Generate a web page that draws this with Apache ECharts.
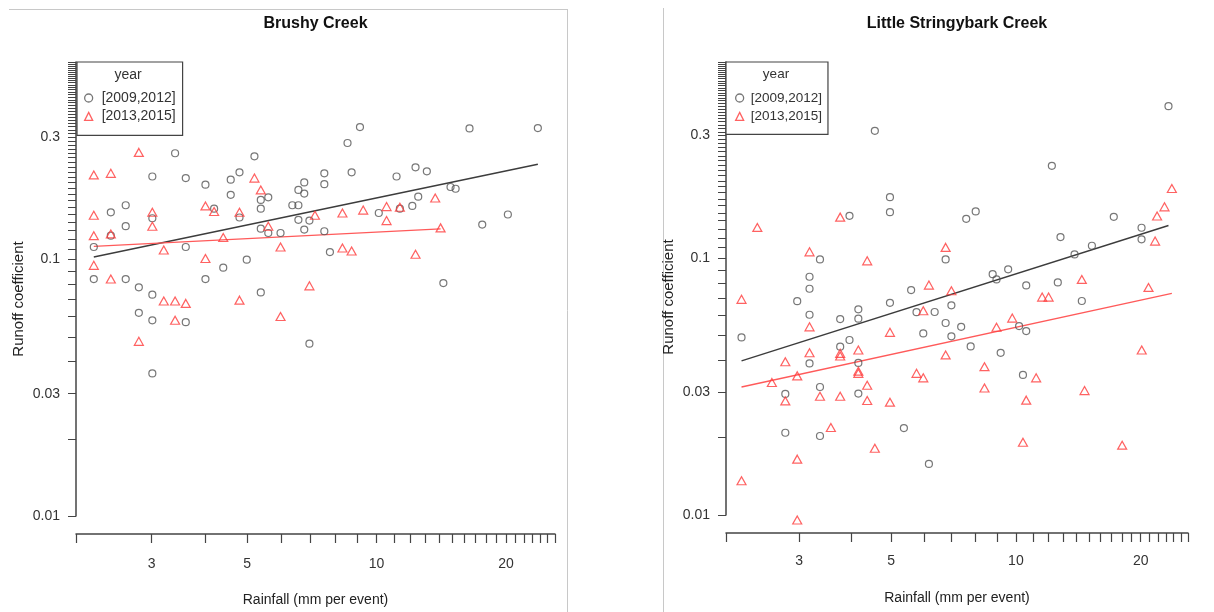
<!DOCTYPE html>
<html><head><meta charset="utf-8">
<script src="https://cdn.jsdelivr.net/npm/echarts@6/dist/echarts.min.js"></script>
<style>html,body{margin:0;padding:0;background:#fff}#chart{width:1214px;height:612px}</style>
</head><body><div id="chart"></div>
<script>
const FONT = '"Liberation Sans", Arial, Helvetica, sans-serif';

// ---- axes / ticks ----
const xRange = [2, 26];
const yRangeBrushy = [0.01, 0.59];
const yRangeLittle = [0.01, 0.58];
const xTickLabels = [3, 5, 10, 20];
const yTickLabels = [0.01, 0.03, 0.1, 0.3];
const xTickStep = 1;      // minor ticks every 1 mm
const yTickStep = 0.01;   // minor ticks every 0.01

const titles = ['Brushy Creek', 'Little Stringybark Creek'];
const groupNames = ['[2009,2012]', '[2013,2015]'];
const legendTitle = 'year';
const xName = 'Rainfall (mm per event)';
const yName = 'Runoff coefficient';

// ---- Brushy Creek: [rainfall, runoff coefficient] ----
const brushy2009 = [[2.20,0.112],[2.20,0.084],[2.41,0.153],[2.41,0.124],[2.61,0.163],[2.61,0.135],[2.61,0.084],[2.80,0.078],[2.80,0.062],[3.01,0.211],[3.01,0.145],[3.01,0.073],[3.01,0.058],[3.01,0.036],[3.40,0.260],[3.60,0.208],[3.60,0.112],[3.60,0.057],[4.00,0.196],[4.00,0.084],[4.19,0.158],[4.40,0.093],[4.58,0.205],[4.58,0.179],[4.80,0.219],[4.80,0.146],[4.99,0.100],[5.20,0.253],[5.38,0.171],[5.38,0.158],[5.38,0.132],[5.38,0.0745],[5.60,0.175],[5.60,0.127],[5.98,0.127],[6.37,0.163],[6.58,0.187],[6.58,0.163],[6.58,0.143],[6.79,0.200],[6.79,0.181],[6.79,0.131],[6.98,0.142],[6.98,0.047],[7.56,0.217],[7.56,0.197],[7.56,0.129],[7.79,0.107],[8.56,0.285],[8.75,0.219],[9.15,0.329],[10.12,0.152],[11.13,0.211],[11.33,0.158],[12.11,0.162],[12.32,0.229],[12.50,0.176],[13.09,0.221],[14.30,0.081],[14.86,0.192],[15.27,0.189],[16.45,0.325],[17.61,0.137],[20.20,0.150],[23.72,0.326]];
const brushy2013 = [[2.20,0.214],[2.20,0.149],[2.20,0.124],[2.20,0.095],[2.41,0.217],[2.41,0.126],[2.41,0.084],[2.80,0.262],[2.80,0.048],[3.01,0.153],[3.01,0.135],[3.20,0.109],[3.20,0.069],[3.40,0.069],[3.40,0.058],[3.60,0.0675],[4.00,0.162],[4.00,0.101],[4.19,0.154],[4.40,0.122],[4.80,0.153],[4.80,0.0695],[5.20,0.208],[5.38,0.187],[5.60,0.135],[5.98,0.112],[5.98,0.060],[6.98,0.079],[7.19,0.149],[8.33,0.152],[8.33,0.111],[8.75,0.108],[9.31,0.156],[10.55,0.161],[10.55,0.142],[11.33,0.160],[12.32,0.105],[13.69,0.174],[14.09,0.133]];
const brushyFit2009 = [[2.20,0.1024],[23.72,0.2355]];
const brushyFit2013 = [[2.20,0.1126],[14.09,0.1318]];

// ---- Little Stringybark Creek ----
const little2009 = [[2.18,0.0491],[2.78,0.0296],[2.78,0.0209],[2.97,0.0680],[3.18,0.0846],[3.18,0.0760],[3.18,0.0602],[3.18,0.0389],[3.37,0.0988],[3.37,0.0315],[3.37,0.0203],[3.77,0.0579],[3.77,0.0452],[3.97,0.1461],[3.97,0.0480],[4.17,0.0632],[4.17,0.0581],[4.17,0.0391],[4.17,0.0297],[4.57,0.3129],[4.97,0.1727],[4.97,0.1510],[4.97,0.0670],[5.37,0.0218],[5.59,0.0751],[5.76,0.0616],[5.98,0.0509],[6.17,0.0158],[6.37,0.0617],[6.77,0.0988],[6.77,0.0559],[6.99,0.0655],[6.99,0.0496],[7.38,0.0540],[7.59,0.1422],[7.78,0.0453],[8.00,0.1519],[8.79,0.0866],[8.98,0.0826],[9.19,0.0428],[9.58,0.0904],[10.18,0.0544],[10.40,0.0351],[10.59,0.0783],[10.59,0.0520],[12.21,0.2286],[12.62,0.0804],[12.81,0.1207],[13.85,0.1034],[14.42,0.0681],[15.25,0.1117],[17.22,0.1448],[20.09,0.1313],[20.09,0.1183],[23.33,0.3903]];
const little2013 = [[2.18,0.0691],[2.18,0.0136],[2.38,0.1317],[2.58,0.0328],[2.78,0.0395],[2.78,0.0278],[2.97,0.0348],[2.97,0.0165],[2.97,0.00956],[3.18,0.1058],[3.18,0.0540],[3.18,0.0428],[3.37,0.0290],[3.58,0.0219],[3.77,0.1444],[3.77,0.0426],[3.77,0.0416],[3.77,0.0290],[4.17,0.0439],[4.17,0.0363],[4.17,0.0356],[4.38,0.0976],[4.38,0.0320],[4.38,0.0279],[4.57,0.0182],[4.97,0.0514],[4.97,0.0275],[5.76,0.0356],[5.98,0.0624],[5.98,0.0342],[6.17,0.0785],[6.77,0.1101],[6.77,0.0420],[6.99,0.0746],[8.40,0.0378],[8.40,0.0312],[8.98,0.0538],[9.80,0.0584],[10.40,0.0192],[10.59,0.0280],[11.19,0.0342],[11.57,0.0705],[11.99,0.0705],[14.42,0.0826],[14.64,0.0305],[18.04,0.0187],[20.11,0.0439],[20.88,0.0769],[21.66,0.1165],[21.90,0.1458],[22.82,0.1583],[23.77,0.1867]];
const littleFit2009 = [[2.18,0.0398],[23.33,0.1340]];
const littleFit2013 = [[2.18,0.0315],[23.77,0.0729]];

// ---- styles ----
const COL_OLD = '#555555';
const COL_NEW = '#ff3b3b';
const AXIS_COL = '#444444';
const TEXT_COL = '#333333';

function range(a, b, step) {
  const out = [];
  const n = Math.round((b - a) / step);
  for (let i = 0; i <= n; i++) out.push(+(a + i * step).toFixed(4));
  return out;
}
const xTickVals = range(xRange[0], xRange[1], xTickStep);

const panels = [
  { grid: { left: 76, top: 62, width: 479, height: 457 }, yRange: yRangeBrushy,
    old: brushy2009, nw: brushy2013, fitOld: brushyFit2009, fitNew: brushyFit2013,
    title: titles[0], labelMarginX: 23, nameGap: 59, font: 14,
    legend: { left: 77, top: 62, padding: [29, 7, 12, 7], textPad: 4 },
    yearPos: [128, 75], yNamePos: [19, 299] },
  { grid: { left: 726, top: 62, width: 462, height: 453 }, yRange: yRangeLittle,
    old: little2009, nw: little2013, fitOld: littleFit2009, fitNew: littleFit2013,
    title: titles[1], labelMarginX: 21, nameGap: 58, font: 13.5,
    legend: { left: 726, top: 62, padding: [29, 6, 11, 9], textPad: 2 },
    yearPos: [776, 74], yNamePos: [669, 297] }
];

const grid = [], xAxis = [], yAxis = [], series = [], legend = [], title = [], graphic = [];

panels.forEach((p, g) => {
  grid.push(p.grid);
  const yTickVals = range(p.yRange[0], p.yRange[1], yTickStep);
  // data axes (log scales)
  xAxis.push({ type: 'log', logBase: 10, gridIndex: g, min: xRange[0], max: xRange[1], show: false, position: 'bottom' });
  yAxis.push({ type: 'log', logBase: 10, gridIndex: g, min: p.yRange[0], max: p.yRange[1], show: false, position: 'left' });
  // R-style tick axes (same log positions, ticks at every integer / 0.01)
  xAxis.push({
    type: 'value', gridIndex: g, position: 'bottom', offset: 18,
    min: Math.log10(xRange[0]), max: Math.log10(xRange[1]),
    axisLine: { show: true, onZero: false, lineStyle: { color: AXIS_COL, width: 1.5 } },
    axisTick: { show: true, length: 9, customValues: xTickVals.map(Math.log10), lineStyle: { color: AXIS_COL, width: 1.2 } },
    axisLabel: { show: true, customValues: xTickLabels.map(Math.log10), formatter: v => String(Math.round(Math.pow(10, v))),
      margin: p.labelMarginX, fontSize: 14, color: TEXT_COL, fontFamily: FONT },
    splitLine: { show: false },
    name: xName, nameLocation: 'middle', nameGap: p.nameGap,
    nameTextStyle: { fontSize: 14, color: '#222', fontFamily: FONT }
  });
  yAxis.push({
    type: 'value', gridIndex: g, position: 'left',
    min: Math.log10(p.yRange[0]), max: Math.log10(p.yRange[1]),
    axisLine: { show: true, onZero: false, lineStyle: { color: AXIS_COL, width: 1.5 } },
    axisTick: { show: true, length: 8, customValues: yTickVals.map(Math.log10), lineStyle: { color: AXIS_COL, width: 1 } },
    axisLabel: { show: true, customValues: yTickLabels.map(Math.log10), formatter: v => String(+Math.pow(10, v).toPrecision(1)),
      margin: 16, fontSize: 14, color: TEXT_COL, fontFamily: FONT },
    splitLine: { show: false }
  });
  const xi = g * 2, yi = g * 2;
  series.push({
    name: groupNames[0], type: 'scatter', xAxisIndex: xi, yAxisIndex: yi, data: p.old, clip: false,
    symbol: 'circle', symbolSize: 7,
    itemStyle: { color: 'rgba(0,0,0,0)', borderColor: COL_OLD, borderWidth: 1.2 }, emphasis: { disabled: true }
  });
  series.push({
    name: groupNames[1], type: 'scatter', xAxisIndex: xi, yAxisIndex: yi, data: p.nw, clip: false,
    symbol: 'triangle', symbolSize: [9, 8],
    itemStyle: { color: 'rgba(0,0,0,0)', borderColor: COL_NEW, borderWidth: 1.2 }, emphasis: { disabled: true }
  });
  series.push({
    name: 'fit ' + groupNames[0], type: 'line', xAxisIndex: xi, yAxisIndex: yi, data: p.fitOld,
    symbol: 'none', lineStyle: { color: '#3c3c3c', width: 1.4 }, z: 1, emphasis: { disabled: true }
  });
  series.push({
    name: 'fit ' + groupNames[1], type: 'line', xAxisIndex: xi, yAxisIndex: yi, data: p.fitNew,
    symbol: 'none', lineStyle: { color: '#ff5a5a', width: 1.3 }, z: 1, emphasis: { disabled: true }
  });
  legend.push({
    orient: 'vertical', left: p.legend.left, top: p.legend.top, padding: p.legend.padding,
    itemWidth: 8, itemHeight: 8, itemGap: 4.4, selectedMode: false,
    borderColor: AXIS_COL, borderWidth: 1.2, backgroundColor: '#fff',
    textStyle: { fontSize: p.font, color: TEXT_COL, fontFamily: FONT, padding: [0, 0, 0, p.legend.textPad] },
    data: [
      { name: groupNames[0], icon: 'circle', itemStyle: { color: 'rgba(0,0,0,0)', borderColor: COL_OLD, borderWidth: 1.3 } },
      { name: groupNames[1], icon: 'triangle', itemStyle: { color: 'rgba(0,0,0,0)', borderColor: COL_NEW, borderWidth: 1.3 } }
    ]
  });
  title.push({
    text: p.title, left: p.grid.left + p.grid.width / 2, top: 16, textAlign: 'center', padding: 0,
    textStyle: { fontSize: 16, fontWeight: 'bold', color: '#111', fontFamily: FONT }
  });
  graphic.push({
    type: 'text', x: p.yearPos[0], y: p.yearPos[1], z: 100,
    style: { text: legendTitle, fill: TEXT_COL, font: p.font + 'px ' + FONT, align: 'center', verticalAlign: 'middle' }
  });
  graphic.push({
    type: 'text', x: p.yNamePos[0], y: p.yNamePos[1], rotation: Math.PI / 2,
    style: { text: yName, fill: '#222', font: '15px ' + FONT, align: 'center', verticalAlign: 'middle' }
  });
});

// panel frame lines of the original figure
graphic.push({ type: 'line', shape: { x1: 9, y1: 9.5, x2: 567, y2: 9.5 }, style: { stroke: '#c8c8c8', lineWidth: 1 }, z: -1 });
graphic.push({ type: 'line', shape: { x1: 567.5, y1: 9, x2: 567.5, y2: 612 }, style: { stroke: '#c8c8c8', lineWidth: 1 }, z: -1 });
graphic.push({ type: 'line', shape: { x1: 663.5, y1: 8, x2: 663.5, y2: 612 }, style: { stroke: '#c8c8c8', lineWidth: 1 }, z: -1 });

const chart = echarts.init(document.getElementById('chart'), null, { renderer: 'canvas' });
chart.setOption({
  animation: false,
  backgroundColor: '#fff',
  textStyle: { fontFamily: FONT },
  title, grid, xAxis, yAxis, legend, series, graphic
});
</script></body></html>
